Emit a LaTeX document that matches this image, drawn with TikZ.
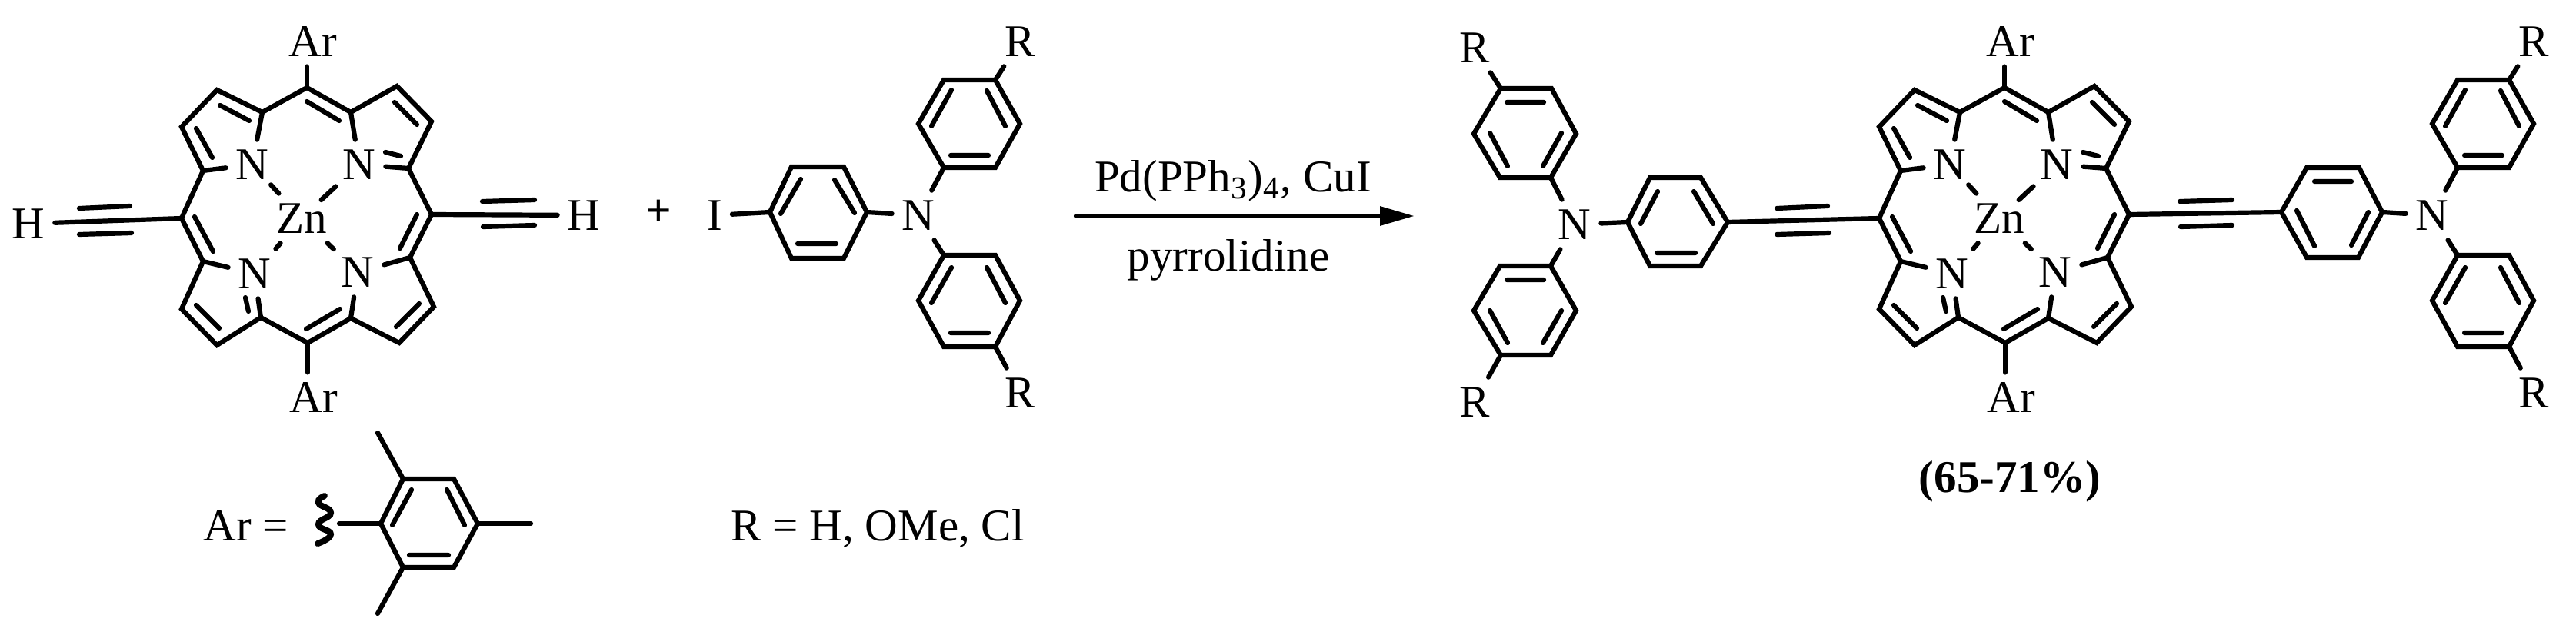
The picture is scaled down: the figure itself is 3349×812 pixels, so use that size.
\documentclass[tikz,border=0pt]{standalone}
\usepackage{fontspec}
\setmainfont{Liberation Serif}
\usetikzlibrary{arrows.meta}
\begin{document}
\begin{tikzpicture}
        [%%%%%%%%%%%%%%%%%%%%%%%%%%%%%%
            x=0.01cm,y=-0.01cm,
            every node/.style={font=\fontsize{16.8}{20}\selectfont},
            atom/.style={inner sep=3.5pt},
            txt/.style={inner sep=0pt,anchor=base},
            bond/.style={line width=0.062cm,line cap=round},
        ]%%%%%%%%%%%%%%%%%%%%%%%%%%%%%%

        \useasboundingbox (0,0) rectangle (3349,812);

        \foreach \s/\p in {0/a,2207/b}{
            \begin{scope}[shift={(\s,0)}]
                \node[atom] (\p N1) at (328,214){N};
                \node[atom] (\p N2) at (467,214){N};
                \node[atom] (\p N3) at (331,356){N};
                \node[atom] (\p N4) at (465,354){N};
                \node[atom] (\p Zn) at (392,284){Zn};
                \node[atom] (\p Art) at (407,54){Ar};
                \node[atom] (\p Arb) at (408,517){Ar};
                \coordinate (\p mt) at (399,114);
                \coordinate (\p mr) at (561,279);
                \coordinate (\p mb) at (400,446);
                \coordinate (\p ml) at (236,284);
                \coordinate (\p a1) at (341,146);
                \coordinate (\p a2) at (264,222);
                \coordinate (\p a3) at (456,146);
                \coordinate (\p a4) at (531,219);
                \coordinate (\p a5) at (533,335);
                \coordinate (\p a6) at (456,414);
                \coordinate (\p a7) at (339,413);
                \coordinate (\p a8) at (264,340);

                \draw[bond] (\p N1) -- (\p a1) -- (282,117) -- (236,165) -- (\p a2) -- (\p N1);
                \draw[bond] (\p N2) -- (\p a3) -- (516,112) -- (561,158) -- (\p a4) -- (\p N2);
                \draw[bond] (\p N4) -- (\p a5) -- (564,399) -- (519,446) -- (\p a6) -- (\p N4);
                \draw[bond] (\p N3) -- (\p a7) -- (282,449) -- (236,402) -- (\p a8) -- (\p N3);
                \draw[bond] (\p a1) -- (\p mt) -- (\p a3);
                \draw[bond] (\p a4) -- (\p mr) -- (\p a5);
                \draw[bond] (\p a6) -- (\p mb) -- (\p a7);
                \draw[bond] (\p a8) -- (\p ml) -- (\p a2);
                \draw[bond] (\p mt) -- (\p mt |- \p Art.south);
                \draw[bond] (\p mb) -- (\p mb |- \p Arb.north);

                \draw[bond] (286,137) -- (324,157) (255,167) -- (276,205) (399,132) -- (441,157);
                \draw[bond] (513,133) -- (542,162) (501,198) -- (521,203) (542,279) -- (520,323);
                \draw[bond] (253,282) -- (277,327) (255,397) -- (285,427) (319,387) -- (323,405);
                \draw[bond] (398,428) -- (442,402) (515,425) -- (545,395);

                \draw[bond] (103,271) -- (169,268) (103,305) -- (171,303);
                \draw[bond] (627,262) -- (695,260) (628,295) -- (695,293);

                \draw[bond,shorten <=-2.3pt] (\p N1) -- (\p Zn);
                \draw[bond,shorten <=-1.5pt,shorten >=-3.5pt] (\p N2) -- (\p Zn);
                \draw[bond] (\p N3) -- (\p Zn);
                \draw[bond,shorten <=-1pt] (\p N4) -- (\p Zn);
            \end{scope}
        }

        \node[atom] (hl) at (37,291){H};
        \node[atom] (hr) at (759,280){H};
        \draw[bond] (aml) -- (hl);
        \draw[bond] (amr) -- (hr);

        \node (plus) at (856,277){\bfseries +};
        \node[atom] (iodo) at (929,280){I};

        \foreach \s/\p in {0/c,1968/d}{
            \begin{scope}[shift={(\s,0)}]
                \node[atom] (\p N) at (1194,280){N};
                \node[atom] (\p R1) at (1326,54){R};
                \node[atom] (\p R2) at (1326,511){R};
                \coordinate (\p u) at (1227,218);
                \coordinate (\p ur) at (1294,104);
                \coordinate (\p l) at (1227,332);
                \coordinate (\p lr) at (1294,451);

                \draw[bond] (\p u) -- (1294,218) -- (1326,161) -- (\p ur) -- (1227,104) -- (1194,161) -- cycle;
                \draw[bond] (\p l) -- (1294,332) -- (1326,391) -- (\p lr) -- (1227,451) -- (1194,391) -- cycle;
                \draw[bond] (\p N) -- (\p u);
                \draw[bond] (\p N) -- (\p l);
                \draw[bond] (\p ur) -- (\p R1);
                \draw[bond] (\p lr) -- (\p R2);

                \draw[bond] (1237,117) -- (1211,164) (1283,118) -- (1307,164) (1236,202) -- (1285,202);
                \draw[bond] (1237,348) -- (1211,394) (1283,348) -- (1307,394) (1236,433) -- (1285,433);
            \end{scope}
        }

        \coordinate (c1) at (1001,276);
        \coordinate (c2) at (1127,276);
        \draw[bond] (c1) -- (1029,217) -- (1097,217) -- (c2) -- (1097,336) -- (1029,336) -- cycle;
        \draw[bond] (1041,233) -- (1015,278) (1085,234) -- (1111,277) (1037,317) -- (1087,317);
        \draw[bond] (iodo) -- (c1);
        \draw[bond] (c2) -- (cN);

        \coordinate (arrowstart) at (1399,281);
        \coordinate (arrowend) at (1839,281);
        \draw[bond,-{Triangle[length=0.45cm,width=0.24cm]}] (arrowstart) -- (arrowend);
        \node[txt] (cond1) at (1603,249){Pd(PPh\textsubscript{3})\textsubscript{4}, CuI};
        \node[txt] (cond2) at (1597,352){pyrrolidine};

        \node[atom] (eN) at (2047,292){N};
        \node[atom] (eR1) at (1917,62){R};
        \node[atom] (eR2) at (1917,523){R};
        \coordinate (e1) at (2016,231);
        \coordinate (e2) at (1951,115);
        \coordinate (e3) at (2016,346);
        \coordinate (e4) at (1951,462);
        \draw[bond] (e1) -- (1950,231) -- (1916,174) -- (e2) -- (2017,115) -- (2049,174) -- cycle;
        \draw[bond] (e3) -- (1950,346) -- (1916,404) -- (e4) -- (2016,462) -- (2049,404) -- cycle;
        \draw[bond] (1959,133) -- (2007,133) (1937,173) -- (1960,216) (2030,173) -- (2006,216);
        \draw[bond] (1959,364) -- (2007,364) (1937,404) -- (1960,446) (2030,404) -- (2006,446);
        \draw[bond] (eN) -- (e1);
        \draw[bond] (eN) -- (e3);
        \draw[bond] (e2) -- (eR1);
        \draw[bond] (e4) -- (eR2);

        \coordinate (f1) at (2116,289);
        \coordinate (f2) at (2246,289);
        \draw[bond] (f1) -- (2145,231) -- (2211,231) -- (f2) -- (2211,346) -- (2145,346) -- cycle;
        \draw[bond] (2155,249) -- (2133,291) (2202,249) -- (2227,291) (2154,329) -- (2204,329);
        \draw[bond] (eN) -- (f1);
        \draw[bond] (f2) -- (bml);

        \coordinate (g1) at (2966,276);
        \coordinate (g2) at (3097,276);
        \draw[bond] (g1) -- (2999,218) -- (3067,218) -- (g2) -- (3066,335) -- (2999,335) -- cycle;
        \draw[bond] (3009,236) -- (3057,236) (2986,274) -- (3009,320) (3079,276) -- (3057,319);
        \draw[bond] (bmr) -- (g1);
        \draw[bond] (g2) -- (dN);

        \node[txt] (yield) at (2613,640){\bfseries (65-71\%)};

        \node[txt] (arlabel) at (320,703){Ar =};
        \node[txt] (rlabel) at (1141,703){R = H, OMe, Cl};
        \coordinate (m0) at (441,681);
        \coordinate (m1) at (495,681);
        \coordinate (m2) at (524,623);
        \coordinate (m3) at (621,681);
        \coordinate (m4) at (524,738);
        \draw[bond,line width=0.08cm] plot [smooth,tension=0.9] coordinates {(422,645) (414,654) (430,667) (414,682) (430,695) (413,707)};
        \draw[bond] (m1) -- (m2) -- (590,623) -- (m3) -- (590,738) -- (m4) -- cycle;
        \draw[bond] (m0) -- (m1);
        \draw[bond] (m2) -- (491,563);
        \draw[bond] (m4) -- (491,798);
        \draw[bond] (m3) -- (690,681);
        \draw[bond] (535,637) -- (510,683) (581,637) -- (604,683) (532,722) -- (583,722);
    \end{tikzpicture}
\end{document}
